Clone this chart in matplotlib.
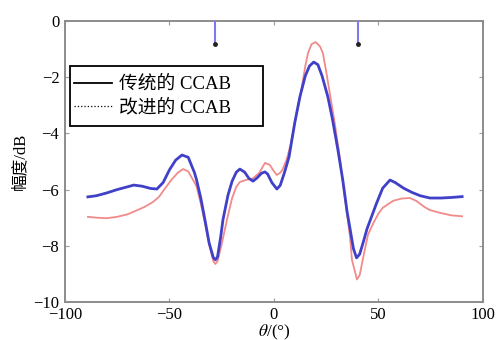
import matplotlib
matplotlib.use('Agg')
from matplotlib import pyplot as plt
from matplotlib.lines import Line2D
from matplotlib.patches import Rectangle

plt.rcParams['font.family'] = ['Liberation Serif', 'Noto Sans CJK SC']
plt.rcParams['mathtext.fontset'] = 'stix'

# conventional CCAB (blue)
theta_conv = [-89, -85, -80, -75, -70, -67, -63, -59, -56, -53, -50, -47, -44, -41, -38,
              -37, -35, -33, -31, -29, -28, -27, -25.5, -24.4, -22, -20, -18, -16.3, -14,
              -12, -10, -8, -6, -4.3, -3, -1, 1.4, 3, 5, 7.2, 10, 12.4, 15, 17, 19, 21,
              23, 25.8, 28, 30.6, 33, 35, 36.4, 38, 39.5, 41, 43, 44.5, 47, 49, 52, 55.5,
              58, 62, 66, 70, 74.6, 80, 85, 90]
gain_conv = [-6.26, -6.22, -6.12, -6.0, -5.9, -5.84, -5.88, -5.96, -5.98, -5.75, -5.3, -4.95,
             -4.77, -4.85, -5.4, -5.66, -6.3, -7.08, -7.9, -8.42, -8.5, -8.4, -7.7, -7.08,
             -6.2, -5.7, -5.38, -5.27, -5.38, -5.6, -5.7, -5.58, -5.42, -5.37, -5.45, -5.75,
             -5.98, -5.85, -5.4, -4.84, -3.6, -2.7, -1.95, -1.6, -1.46, -1.55, -1.95, -2.7,
             -3.5, -4.59, -5.7, -6.8, -7.4, -8.1, -8.43, -8.3, -7.8, -7.4, -6.9, -6.5, -5.95,
             -5.66, -5.75, -5.95, -6.1, -6.22, -6.3, -6.3, -6.28, -6.25]

# improved CCAB (red)
theta_impr = [-89, -85, -80, -75, -70, -65, -62, -58, -55, -52, -49, -46, -43.5, -41, -38,
              -37, -35, -33, -31, -29, -28, -27, -25, -22.5, -20, -18, -16.3, -13, -10, -7,
              -4.3, -2, 0, 1.4, 3, 4, 6, 8, 10, 12.4, 15, 16.3, 18, 20, 22, 23.4, 25, 27, 29,
              31.6, 33, 35, 36.4, 37.3, 39.7, 41, 43, 45, 47.5, 50, 52, 57, 61, 65, 68, 72,
              74.6, 79.5, 85, 90]
gain_impr = [-6.97, -7.0, -7.02, -6.97, -6.88, -6.72, -6.62, -6.45, -6.26, -5.95, -5.65, -5.4,
             -5.27, -5.35, -5.75, -5.9, -6.5, -7.2, -7.95, -8.55, -8.65, -8.55, -7.95, -7.08,
             -6.3, -5.9, -5.73, -5.65, -5.6, -5.4, -5.05, -5.12, -5.35, -5.48, -5.4, -5.3,
             -4.95, -4.4, -3.6, -2.75, -1.6, -1.14, -0.82, -0.75, -0.9, -1.14, -1.8, -2.7,
             -3.6, -4.9, -5.8, -6.9, -7.7, -8.5, -9.2, -9.05, -8.3, -7.6, -7.2, -6.85, -6.65,
             -6.4, -6.32, -6.3, -6.4, -6.62, -6.73, -6.83, -6.92, -6.95]

# null directions marked on top edge
null_theta = [-28, 40]
null_depth = -0.8

legend_labels = ['传统的 CCAB', '改进的 CCAB']

fig = plt.figure(figsize=(4.99, 3.40), dpi=100)
ax = fig.add_axes([0.130, 0.112, 0.838, 0.826])

ax.plot(theta_impr, gain_impr, color='#f28a8a', lw=1.3, zorder=2)
ax.plot(theta_conv, gain_conv, color='#4040c8', lw=2.0, zorder=3)

for t in null_theta:
    ax.plot([t, t], [0, null_depth], color='#7b7bf0', lw=1.5, zorder=4)
    ax.plot([t], [null_depth], 'o', color='#222222', ms=2.5, zorder=5)

ax.set_xlim(-100, 100)
ax.set_ylim(-10, 0)
ax.set_xticks([-100, -50, 0, 50, 100])
ax.set_yticks([0, -2, -4, -6, -8, -10])
ax.tick_params(direction='in', top=True, right=True, labelsize=12,
               color='#999999', length=3, pad=4)
for s in ax.spines.values():
    s.set_color('#8c8c8c')
    s.set_linewidth(1.4)

ax.set_ylabel('幅度/dB', fontsize=12, labelpad=4)
fig.text(0.55, 0.052, r'$\theta$/(°)', fontsize=12.5, ha='center', va='top')

# legend: black sample lines, box drawn separately to match wide frame
box = Rectangle((0.012, 0.626), 0.462, 0.214, transform=ax.transAxes,
                facecolor='white', edgecolor='black', lw=1.3, zorder=6)
ax.add_patch(box)
handles = [Line2D([], [], color='black', lw=1.3, ls='-'),
           Line2D([], [], color='black', lw=0.9, ls=':')]
leg = ax.legend(handles, legend_labels, loc='center left', bbox_to_anchor=(0.022, 0.733),
                fontsize=13.5, frameon=False, handlelength=2.0,
                handletextpad=0.4, borderpad=0.0, labelspacing=0.3,
                borderaxespad=0)
leg.set_zorder(7)

fig.savefig('out.png', dpi=100)
